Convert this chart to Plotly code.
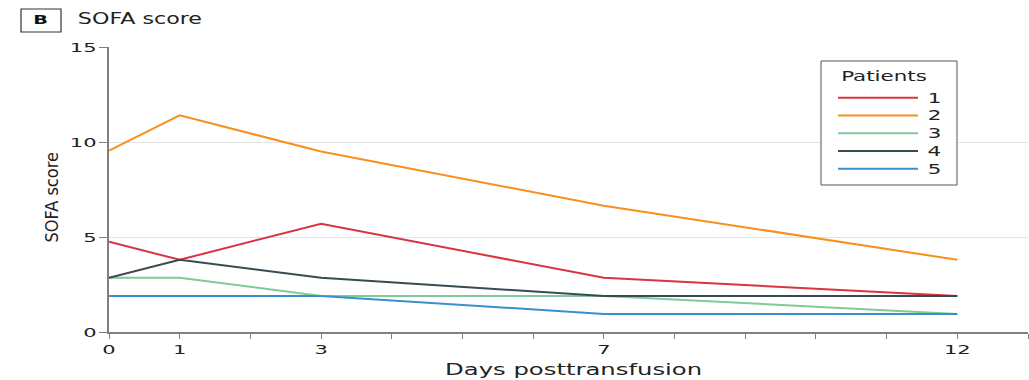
import plotly.graph_objects as go

days = [0, 1, 3, 7, 12]
patients = ["1", "2", "3", "4", "5"]
sofa_p1 = [4.75, 3.8, 5.7, 2.85, 1.9]
sofa_p2 = [9.55, 11.4, 9.5, 6.65, 3.8]
sofa_p3 = [2.85, 2.85, 1.9, 1.9, 0.95]
sofa_p4 = [2.85, 3.8, 2.85, 1.9, 1.9]
sofa_p5 = [1.9, 1.9, 1.9, 0.95, 0.95]
series = [sofa_p1, sofa_p2, sofa_p3, sofa_p4, sofa_p5]
colors = ["#d9343f", "#f7901e", "#80c99c", "#3a4a52", "#3b8fcb"]

x_ticks = list(range(0, 14))
x_labels = [str(v) if v in days else "" for v in x_ticks]
y_ticks = [0, 5, 10, 15]

fig = go.Figure()
for name, vals, col in zip(patients, series, colors):
    fig.add_trace(go.Scatter(x=days, y=vals, mode="lines", name=name,
                             line=dict(color=col, width=2), showlegend=False))

W, H = 1029, 380
ml, mr, mt, mb = 109, 1, 47, 48
pw, ph = W - ml - mr, H - mt - mb

def px(xp):
    return (xp - ml) / pw

def py(yp):
    return (H - mb - yp) / ph

FONT = "DejaVu Sans"
TXT = "#222"
shapes = []
annotations = []
# custom legend box
shapes.append(dict(type="rect", xref="paper", yref="paper",
                   x0=px(821), x1=px(957), y0=py(185), y1=py(61),
                   line=dict(color="#555", width=1), fillcolor="white", layer="above"))
annotations.append(dict(xref="paper", yref="paper", x=px(883.5), y=py(76), text="Patients",
                        showarrow=False, font=dict(family=FONT, size=14, color=TXT),
                        xanchor="center", yanchor="middle"))
for i, (name, col) in enumerate(zip(patients, colors)):
    yy = 97.7 + i * 17.75
    shapes.append(dict(type="line", xref="paper", yref="paper",
                       x0=px(838), x1=px(918), y0=py(yy), y1=py(yy),
                       line=dict(color=col, width=2), layer="above"))
    annotations.append(dict(xref="paper", yref="paper", x=px(934), y=py(yy), text=name,
                            showarrow=False, font=dict(family=FONT, size=14, color=TXT),
                            xanchor="center", yanchor="middle"))
# panel label
shapes.append(dict(type="rect", xref="paper", yref="paper",
                   x0=px(21), x1=px(61), y0=py(32), y1=py(9),
                   line=dict(color="#333", width=1.2)))
annotations.append(dict(xref="paper", yref="paper", x=px(40), y=py(20), text="<b>B</b>",
                        showarrow=False, font=dict(family=FONT, size=12, color="#111"),
                        xanchor="center", yanchor="middle"))
annotations.append(dict(xref="paper", yref="paper", x=px(139.5), y=py(19), text="SOFA score",
                        showarrow=False, font=dict(family=FONT, size=15, color=TXT),
                        xanchor="center", yanchor="middle"))
# axis titles
annotations.append(dict(xref="paper", yref="paper", x=px(573.5), y=py(369), text="Days posttransfusion",
                        showarrow=False, font=dict(family=FONT, size=16, color=TXT),
                        xanchor="center", yanchor="middle"))
annotations.append(dict(xref="paper", yref="paper", x=px(51), y=py(197.5), text="SOFA score",
                        showarrow=False, textangle=-90,
                        font=dict(family="DejaVu Sans Condensed", size=18, color=TXT),
                        xanchor="center", yanchor="middle"))

fig.update_layout(
    width=W, height=H,
    margin=dict(l=ml, r=mr, t=mt, b=mb),
    plot_bgcolor="white", paper_bgcolor="white",
    shapes=shapes, annotations=annotations,
    showlegend=False,
    xaxis=dict(range=[0, 13], tickvals=x_ticks, ticktext=x_labels,
               showgrid=False, zeroline=False, showline=True, linecolor="#808080", linewidth=1.5,
               ticks="outside", ticklen=5, tickcolor="#808080",
               tickfont=dict(family=FONT, size=13, color=TXT)),
    yaxis=dict(range=[0, 15], tickvals=y_ticks,
               showgrid=True, gridcolor="#e4e4e4", gridwidth=1,
               zeroline=False, showline=True, linecolor="#808080", linewidth=1.5,
               ticks="outside", ticklen=8, tickcolor="#808080",
               tickfont=dict(family=FONT, size=13, color=TXT)),
)

post = """
document.body.style.margin = '0';
var gd = document.getElementById('{plot_id}');
var SX = {'12': 1.6, '13': 1.62, '14': 1.53, '15': 1.48, '16': 1.52};
function stretchTexts() {
  var texts = gd.querySelectorAll('svg text');
  texts.forEach(function (t) {
    var ff = (t.style.fontFamily || '');
    if (ff.indexOf('Condensed') >= 0) return;
    var old = t.getAttribute('transform') || '';
    if (old.indexOf('scale(') >= 0) return;
    var fs = String(Math.round(parseFloat(t.style.fontSize || '0')));
    var s = SX[fs];
    if (!s) return;
    var bb;
    try { bb = t.getBBox(); } catch (e) { return; }
    if (!bb || bb.width === 0) return;
    var anc = t.getAttribute('text-anchor') || t.style.textAnchor || 'start';
    var ax = anc === 'end' ? bb.x + bb.width : (anc === 'middle' ? bb.x + bb.width / 2 : bb.x);
    t.setAttribute('transform', old + ' translate(' + ax + ',0) scale(' + s + ',1) translate(' + (-ax) + ',0)');
  });
}
stretchTexts();
gd.on('plotly_afterplot', stretchTexts);
setTimeout(stretchTexts, 50);
setTimeout(stretchTexts, 300);
"""

fig.write_html("out.html", post_script=post, config={"displayModeBar": False})
